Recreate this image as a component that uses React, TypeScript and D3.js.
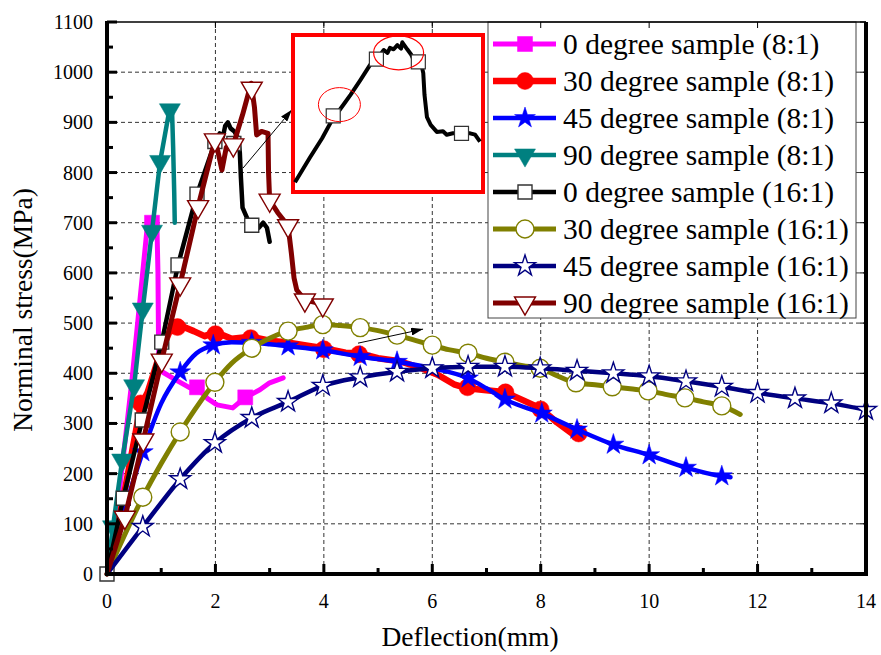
import React from "react";
import * as d3 from "d3";

type P = [number, number];

// ---- tick labels ----
const xTicks = [0, 2, 4, 6, 8, 10, 12, 14];
const yTicks = [0, 100, 200, 300, 400, 500, 600, 700, 800, 900, 1000, 1100];

// ---- series data (deflection mm, stress MPa) ----
const s0_8: P[] = [[0, 0], [0.12, 60], [0.46, 386], [0.75, 700], [0.85, 710], [0.92, 700], [0.94, 600], [0.95, 470], [0.96, 412], [1.03, 402], [1.3, 385], [1.53, 371], [1.66, 371], [1.85, 350], [2.03, 337], [2.32, 331], [2.55, 352], [2.82, 367], [3.0, 381], [3.25, 391]];
const m0_8: P[] = [[0.83, 700], [1.66, 372], [2.55, 352]];

const s30_8: P[] = [[0, 0], [0.3, 150], [0.62, 335], [0.75, 362], [0.95, 430], [1.15, 482], [1.35, 495], [1.6, 484], [1.8, 474], [2.0, 482], [2.3, 469], [2.65, 473], [3.0, 465], [3.3, 462], [3.7, 455], [4.0, 450], [4.4, 441], [4.65, 440], [5.0, 430], [5.4, 424], [5.8, 410], [6.1, 397], [6.4, 378], [6.65, 370], [7.0, 366], [7.35, 362], [7.7, 345], [8.0, 330], [8.3, 302], [8.6, 278], [8.75, 276]];
const m30_8: P[] = [[0.62, 340], [1.3, 492], [2.0, 478], [2.65, 470], [4.0, 448], [4.65, 438], [6.65, 372], [7.35, 362], [8.0, 328], [8.7, 280]];

const s45_8: P[] = [[0, 0], [0.3, 120], [0.66, 243], [1.0, 340], [1.35, 402], [1.65, 440], [1.96, 456], [2.3, 462], [2.67, 461], [3.0, 458], [3.34, 454], [3.98, 446], [4.67, 433], [5.35, 423], [6.0, 410], [6.66, 390], [7.0, 370], [7.34, 348], [8.02, 320], [8.67, 288], [9.34, 258], [10.0, 237], [10.68, 212], [11.34, 195], [11.5, 193]];
const m45_8: P[] = [[0.66, 243], [1.35, 402], [1.96, 456], [2.67, 461], [3.34, 454], [3.98, 446], [4.67, 433], [5.35, 423], [6.0, 410], [6.66, 390], [7.34, 348], [8.02, 320], [8.67, 288], [9.34, 258], [10.0, 237], [10.68, 212], [11.34, 195]];

const s90_8: P[] = [[0, 0], [0.11, 94], [0.28, 227], [0.5, 375], [0.66, 528], [0.83, 683], [0.98, 822], [1.16, 930], [1.2, 922], [1.22, 850], [1.24, 760], [1.25, 700]];
const m90_8: P[] = [[0.11, 94], [0.28, 227], [0.5, 375], [0.66, 528], [0.83, 683], [0.98, 822], [1.16, 925]];

const s0_16: P[] = [[0, 0], [0.3, 151], [0.65, 307], [1.01, 462], [1.31, 616], [1.66, 757], [1.99, 860], [2.08, 878], [2.14, 872], [2.18, 893], [2.23, 900], [2.28, 888], [2.35, 882], [2.42, 868], [2.45, 840], [2.47, 790], [2.5, 730], [2.6, 705], [2.67, 695], [2.8, 690], [2.88, 700], [2.95, 690], [3.0, 662]];
const m0_16: P[] = [[0, 0], [0.3, 151], [0.65, 307], [1.01, 462], [1.31, 616], [1.66, 757], [1.99, 862], [2.34, 858], [2.67, 695]];

const s30_16: P[] = [[0, 0], [0.66, 153], [1.0, 220], [1.35, 283], [1.7, 340], [1.99, 382], [2.3, 420], [2.67, 450], [3.0, 470], [3.34, 484], [3.7, 492], [3.98, 497], [4.3, 495], [4.67, 491], [5.0, 485], [5.35, 476], [5.7, 465], [6.0, 456], [6.3, 447], [6.66, 440], [7.0, 430], [7.34, 422], [7.67, 415], [7.99, 410], [8.3, 395], [8.65, 381], [9.0, 377], [9.32, 373], [9.65, 369], [9.98, 365], [10.3, 358], [10.66, 351], [11.0, 343], [11.34, 335], [11.68, 318]];
const m30_16: P[] = [[0.66, 153], [1.35, 283], [1.99, 382], [2.67, 450], [3.34, 484], [3.98, 497], [4.67, 491], [5.35, 476], [6.0, 456], [6.66, 440], [7.34, 422], [7.99, 410], [8.65, 381], [9.32, 373], [9.98, 365], [10.66, 351], [11.34, 335]];

const s45_16: P[] = [[0, 0], [0.66, 94], [1.35, 189], [1.99, 261], [2.67, 311], [3.34, 343], [3.98, 375], [4.67, 392], [5.35, 403], [6.0, 410], [6.66, 413], [7.34, 413], [7.99, 410], [8.67, 405], [9.34, 400], [10.0, 394], [10.68, 384], [11.34, 373], [12.0, 361], [12.69, 350], [13.36, 340], [14.0, 327]];
const m45_16: P[] = s45_16.slice(1);

const s90_16: P[] = [[0, 0], [0.33, 113], [0.67, 267], [1.01, 426], [1.35, 578], [1.68, 732], [1.99, 865], [2.05, 840], [2.12, 805], [2.2, 850], [2.33, 855], [2.5, 915], [2.66, 978], [2.72, 930], [2.76, 875], [2.85, 882], [2.97, 878], [2.98, 800], [3.0, 745], [3.15, 720], [3.34, 694], [3.4, 640], [3.45, 590], [3.5, 566], [3.65, 546], [3.98, 538]];
const m90_16: P[] = [[0.33, 113], [0.67, 267], [1.01, 426], [1.35, 578], [1.68, 732], [1.99, 865], [2.33, 855], [2.67, 968], [3.0, 745], [3.34, 694], [3.65, 546], [3.98, 536]];

// ---- inset (magnified 0 degree 16:1 peak) ----
const insetCurve: P[] = [[1.3, 701], [1.42, 736], [1.52, 764], [1.61, 793], [1.66, 804], [1.71, 816], [1.75, 826], [1.83, 847], [1.91, 869], [1.96, 877], [2.0, 885], [2.02, 890], [2.05, 886], [2.07, 893], [2.1, 891], [2.13, 897], [2.16, 892], [2.17, 901], [2.19, 896], [2.21, 891], [2.24, 884], [2.27, 873], [2.3, 876], [2.32, 873], [2.34, 857], [2.35, 826], [2.37, 794], [2.4, 783], [2.45, 773], [2.5, 774], [2.53, 769], [2.58, 771], [2.65, 771], [2.72, 771], [2.76, 769], [2.8, 759]];
const insetMarkers: P[] = [[1.61, 796], [1.96, 877], [2.3, 873], [2.65, 771]];
const insetEllipses: P[] = [[1.66, 812], [2.14, 886]];

// arrows (data coords)
const arrows: [P, P][] = [[[2.51, 809], [3.41, 925]], [[4.63, 460], [5.83, 488]]];

const legendLabels = [
  "0 degree sample (8:1)",
  "30 degree sample (8:1)",
  "45 degree sample (8:1)",
  "90 degree sample (8:1)",
  "0 degree sample (16:1)",
  "30 degree sample (16:1)",
  "45 degree sample (16:1)",
  "90 degree sample (16:1)",
];

type Sym = "square" | "circle" | "star" | "tri";
interface Series { line: P[]; marks: P[]; color: string; width: number; sym: Sym; filled: boolean; size: number; smooth: boolean }

const series: Series[] = [
  { line: s0_8, marks: m0_8, color: "#FF00FF", width: 5, sym: "square", filled: true, size: 15, smooth: false },
  { line: s30_8, marks: m30_8, color: "#FF0000", width: 6.5, sym: "circle", filled: true, size: 17, smooth: false },
  { line: s45_8, marks: m45_8, color: "#0000FF", width: 4.5, sym: "star", filled: true, size: 11, smooth: true },
  { line: s90_8, marks: m90_8, color: "#008080", width: 4.5, sym: "tri", filled: true, size: 21, smooth: false },
  { line: s0_16, marks: m0_16, color: "#000000", width: 4.5, sym: "square", filled: false, size: 14, smooth: false },
  { line: s30_16, marks: m30_16, color: "#808000", width: 5, sym: "circle", filled: false, size: 18, smooth: true },
  { line: s45_16, marks: m45_16, color: "#000080", width: 4.5, sym: "star", filled: false, size: 11, smooth: true },
  { line: s90_16, marks: m90_16, color: "#800000", width: 5, sym: "tri", filled: false, size: 21, smooth: false },
];

function symPath(sym: Sym, size: number): string {
  if (sym === "square") return d3.symbol(d3.symbolSquare, size * size)()!;
  if (sym === "circle") return d3.symbol(d3.symbolCircle, Math.PI * (size / 2) * (size / 2))()!;
  if (sym === "star") return d3.symbol(d3.symbolStar, (size * size) / 0.8908130915292852)()!;
  const yy = size / (2 * Math.sqrt(3));
  return d3.symbol(d3.symbolTriangle, yy * yy * Math.sqrt(3) * 3)()!;
}

function Marker({ s, cx, cy }: { s: Series; cx: number; cy: number }) {
  const d = symPath(s.sym, s.size);
  const rot = s.sym === "tri" ? " rotate(180)" : "";
  const stroke = s.filled ? s.color : s.sym === "square" ? "#333" : s.color;
  return (
    <path d={d} transform={`translate(${cx},${cy})${rot}`} fill={s.filled ? s.color : "#fff"} stroke={stroke} strokeWidth={s.filled ? 0.5 : 1.4} />
  );
}

const FONT = "Liberation Serif";

export default function App() {
  const W = 881, H = 655;
  const L = 107, R = 866, T = 22, B = 574;
  const x = d3.scaleLinear().domain([0, 14]).range([L, R]);
  const y = d3.scaleLinear().domain([0, 1100]).range([B, T]);
  const ts = { fontFamily: FONT } as React.CSSProperties;

  const lineGen = (smooth: boolean) =>
    d3.line<P>().x((d) => x(d[0])).y((d) => y(d[1])).curve(smooth ? d3.curveMonotoneX : d3.curveLinear);

  const ix = d3.scaleLinear().domain([1.3, 2.8]).range([295, 480]);
  const iy = d3.scaleLinear().domain([700, 900]).range([183, 43]);
  const insetLine = d3.line<P>().x((d) => ix(d[0])).y((d) => iy(d[1]));

  const gridX = xTicks.filter((v) => v > 0 && v < 14);
  const gridY = yTicks.filter((v) => v > 0 && v < 1100);
  const minorY = d3.range(50, 1100, 100);
  const minorX = d3.range(1, 14, 2);

  const legX0 = 488, legY0 = 22, legW = 368, legH = 296, rowH = 37, row0 = 44;

  return (
    <div style={{ position: "absolute", left: 0, top: 0 }}>
      <svg width={W} height={H} style={{ display: "block", background: "#fff", fontFamily: FONT }}>
        <defs>
          <marker id="arr" viewBox="0 0 12 8" refX="12" refY="4" markerWidth="12" markerHeight="8" markerUnits="userSpaceOnUse" orient="auto">
            <path d="M0,0 L12,4 L0,8 Z" fill="#000" />
          </marker>
        </defs>
        <rect x={0} y={0} width={W} height={H} fill="#fff" />
        {/* grid */}
        {gridX.map((v) => (
          <line key={"gx" + v} x1={x(v)} x2={x(v)} y1={T} y2={B} stroke="#333" strokeWidth={1} strokeDasharray="4,3" />
        ))}
        {gridY.map((v) => (
          <line key={"gy" + v} x1={L} x2={R} y1={y(v)} y2={y(v)} stroke="#333" strokeWidth={1} strokeDasharray="4,3" />
        ))}

        {/* series */}
        {series.map((s, i) => (
          <g key={"s" + i}>
            <path d={lineGen(s.smooth)(s.line)!} fill="none" stroke={s.color} strokeWidth={s.width} strokeLinejoin="round" strokeLinecap="round" />
            {s.marks.map((m, j) => (
              <Marker key={j} s={s} cx={x(m[0])} cy={y(m[1])} />
            ))}
          </g>
        ))}

        {/* arrows */}
        {arrows.map((a, i) => (
          <line key={"a" + i} x1={x(a[0][0])} y1={y(a[0][1])} x2={x(a[1][0])} y2={y(a[1][1])} stroke="#000" strokeWidth={1} markerEnd="url(#arr)" />
        ))}

        {/* inset */}
        <rect x={293} y={35} width={190} height={157} fill="#fff" stroke="#FF0000" strokeWidth={4} />
        <path d={insetLine(insetCurve)!} fill="none" stroke="#000" strokeWidth={4} strokeLinejoin="round" />
        {insetMarkers.map((m, j) => (
          <path key={"im" + j} d={symPath("square", 14)} transform={`translate(${ix(m[0])},${iy(m[1])})`} fill="#fff" stroke="#333" strokeWidth={1.2} />
        ))}
        <ellipse cx={ix(insetEllipses[0][0])} cy={iy(insetEllipses[0][1])} rx={21} ry={17} fill="none" stroke="#FF0000" strokeWidth={1} />
        <ellipse cx={ix(insetEllipses[1][0])} cy={iy(insetEllipses[1][1])} rx={25} ry={17} fill="none" stroke="#FF0000" strokeWidth={1.2} />

        {/* legend */}
        <rect x={legX0} y={legY0} width={legW} height={legH} fill="#fff" stroke="#444" strokeWidth={1} />
        {series.map((s, i) => {
          const cy = row0 + i * rowH;
          return (
            <g key={"l" + i}>
              <line x1={493} x2={556} y1={cy} y2={cy} stroke={s.color} strokeWidth={s.width} />
              <Marker s={s} cx={525} cy={cy} />
              <text x={563} y={cy} dy="0.33em" style={ts} fontSize={29.5} fill="#000">{legendLabels[i]}</text>
            </g>
          );
        })}

        {/* axes frame */}
        <line x1={L} x2={R} y1={T} y2={T} stroke="#000" strokeWidth={1.5} />
        <line x1={R} x2={R} y1={T} y2={B} stroke="#000" strokeWidth={4} />
        <line x1={L} x2={L} y1={T - 1} y2={B + 2} stroke="#000" strokeWidth={4} />
        <line x1={L - 2} x2={R + 2} y1={B} y2={B} stroke="#000" strokeWidth={4} />

        {/* ticks */}
        {yTicks.map((v) => (
          <g key={"yt" + v}>
            <line x1={L} x2={L + 10} y1={y(v)} y2={y(v)} stroke="#000" strokeWidth={3} />
            <line x1={R} x2={R - 6} y1={y(v)} y2={y(v)} stroke="#000" strokeWidth={1} />
            <text x={93} y={y(v)} dy="0.35em" textAnchor="end" style={ts} fontSize={20}>{v}</text>
          </g>
        ))}
        {minorY.map((v) => (
          <line key={"ym" + v} x1={L} x2={L + 6} y1={y(v)} y2={y(v)} stroke="#000" strokeWidth={3} />
        ))}
        {xTicks.map((v) => (
          <g key={"xt" + v}>
            <line x1={x(v)} x2={x(v)} y1={B} y2={B - 10} stroke="#000" strokeWidth={3} />
            <line x1={x(v)} x2={x(v)} y1={T} y2={T + 6} stroke="#000" strokeWidth={1} />
            <text x={x(v)} y={601} dy="0.35em" textAnchor="middle" style={ts} fontSize={20}>{v}</text>
          </g>
        ))}
        {minorX.map((v) => (
          <line key={"xm" + v} x1={x(v)} x2={x(v)} y1={B} y2={B - 6} stroke="#000" strokeWidth={3} />
        ))}

        {/* axis titles */}
        <text x={470} y={636} dy="0.35em" textAnchor="middle" style={ts} fontSize={27.5}>Deflection(mm)</text>
        <text transform="translate(22,310) rotate(-90)" dy="0.35em" textAnchor="middle" style={ts} fontSize={27.5}>Norminal stress(MPa)</text>
      </svg>
    </div>
  );
}
